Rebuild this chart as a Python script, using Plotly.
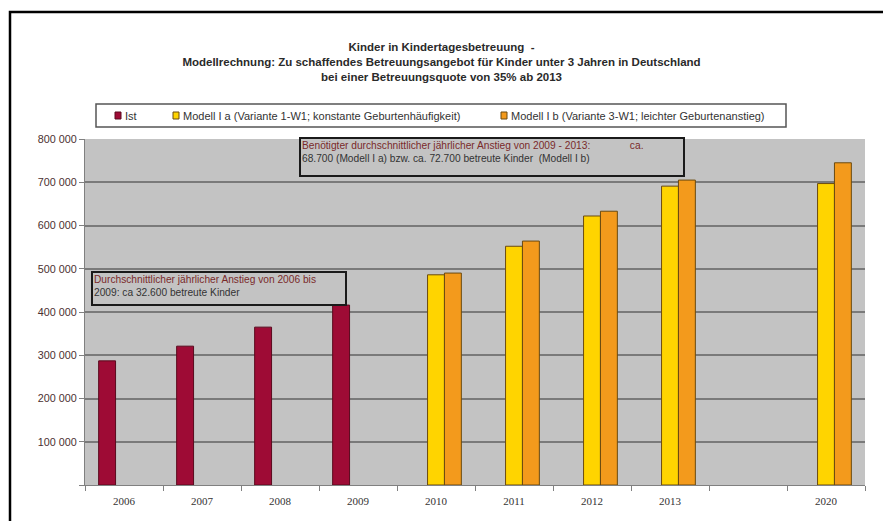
import plotly.graph_objects as go

categories = ["2006", "2007", "2008", "2009", "2010", "2011", "2012", "2013", " ", "2020"]
ist = [287000, 321000, 365000, 416000, None, None, None, None, None, None]
modell_ia = [None, None, None, None, 486000, 552000, 622000, 691000, None, 697000]
modell_ib = [None, None, None, None, 490000, 564000, 633000, 705000, None, 745000]
ytick_vals = [0, 100000, 200000, 300000, 400000, 500000, 600000, 700000, 800000]
ytick_text = ["", "100 000", "200 000", "300 000", "400 000", "500 000", "600 000", "700 000", "800 000"]

names = ["Ist", "Modell I a (Variante 1-W1; konstante Geburtenhäufigkeit)",
         "Modell I b (Variante 3-W1; leichter Geburtenanstieg)"]
colors = ["#9e0b35", "#ffd400", "#f39a1c"]
lines = ["#5a0a1e", "#6a4a10", "#6a4a10"]

fig = go.Figure()
for vals, nm, c, lc in zip([ist, modell_ia, modell_ib], names, colors, lines):
    fig.add_trace(go.Bar(x=categories, y=vals, name=nm, showlegend=False,
                         marker=dict(color=c, line=dict(color=lc, width=1))))

W, H = 883, 521
L, R, T, B = 85, 865, 139, 485

def px(x):
    return (x - L) / (R - L)

def py(y):
    return (B - y) / (B - T)

font_main = "Liberation Sans, Arial, sans-serif"

shapes = [
    # outer frame
    dict(type="rect", xref="paper", yref="paper",
         x0=px(10), x1=px(W + 20), y0=py(H + 20), y1=py(12),
         line=dict(color="black", width=2.5), fillcolor="rgba(0,0,0,0)", layer="above"),
    # legend box
    dict(type="rect", xref="paper", yref="paper",
         x0=px(96), x1=px(786), y0=py(127), y1=py(104),
         line=dict(color="#555555", width=1.5), fillcolor="white", layer="above"),
]
annotations = []
leg_sq = [115, 173, 501]
for x0, nm, c, lc in zip(leg_sq, names, colors, lines):
    shapes.append(dict(type="rect", xref="paper", yref="paper",
                       x0=px(x0), x1=px(x0 + 6), y0=py(119), y1=py(112),
                       line=dict(color=lc, width=1), fillcolor=c, layer="above"))
    annotations.append(dict(xref="paper", yref="paper", x=px(x0 + 8), y=py(115.5),
                            xanchor="left", yanchor="middle", text=nm, showarrow=False,
                            font=dict(family=font_main, size=11, color="#333333")))

annotations += [
    dict(xref="paper", yref="paper", x=px(299), y=py(137), xanchor="left", yanchor="top",
         text="<span style='color:#7a2a2a'>Benötigter durchschnittlicher jährlicher Anstieg von 2009 - 2013:              ca.</span><br>68.700 (Modell I a) bzw. ca. 72.700 betreute Kinder  (Modell I b)",
         showarrow=False, align="left", valign="top", width=380, height=34,
         bordercolor="#1a1a1a", borderwidth=2, borderpad=1,
         font=dict(family=font_main, size=10.2, color="#333333")),
    dict(xref="paper", yref="paper", x=px(91), y=py(271), xanchor="left", yanchor="top",
         text="<span style='color:#7a2a2a'>Durchschnittlicher jährlicher Anstieg von 2006 bis</span><br>2009: ca 32.600 betreute Kinder",
         showarrow=False, align="left", valign="top", width=250, height=29,
         bordercolor="#1a1a1a", borderwidth=2, borderpad=1,
         font=dict(family=font_main, size=10.2, color="#333333")),
]

fig.update_layout(
    width=W, height=H,
    margin=dict(l=L, r=W - R, t=T, b=H - B),
    paper_bgcolor="white",
    plot_bgcolor="#c3c3c3",
    barmode="group", bargap=0.35, bargroupgap=0,
    showlegend=False,
    title=dict(
        text="<b>Kinder in Kindertagesbetreuung  -<br>Modellrechnung: Zu schaffendes Betreuungsangebot für Kinder unter 3 Jahren in Deutschland<br>bei einer Betreuungsquote von 35% ab 2013</b>",
        x=0.5, xref="container", xanchor="center",
        y=1 - 51 / H, yref="container", yanchor="top",
        font=dict(family=font_main, size=11.5, color="#2a2a2a"),
    ),
    xaxis=dict(
        type="category", categoryorder="array", categoryarray=categories,
        tickson="boundaries", ticks="outside", ticklen=5, tickcolor="#808080",
        showline=True, linecolor="#808080", linewidth=1,
        showgrid=False, ticklabelstandoff=6,
        tickfont=dict(family="Liberation Serif, Times New Roman, serif", size=11, color="#333333"),
    ),
    yaxis=dict(
        range=[0, 800000], tickvals=ytick_vals, ticktext=ytick_text,
        ticks="outside", ticklen=5, tickcolor="#808080",
        showline=True, linecolor="#808080", linewidth=1,
        showgrid=True, gridcolor="#7a7a7a", gridwidth=1.5,
        zeroline=False,
        tickfont=dict(family=font_main, size=10.8, color="#4a3030"),
    ),
    shapes=shapes,
    annotations=annotations,
)

fig.write_html("out.html")
